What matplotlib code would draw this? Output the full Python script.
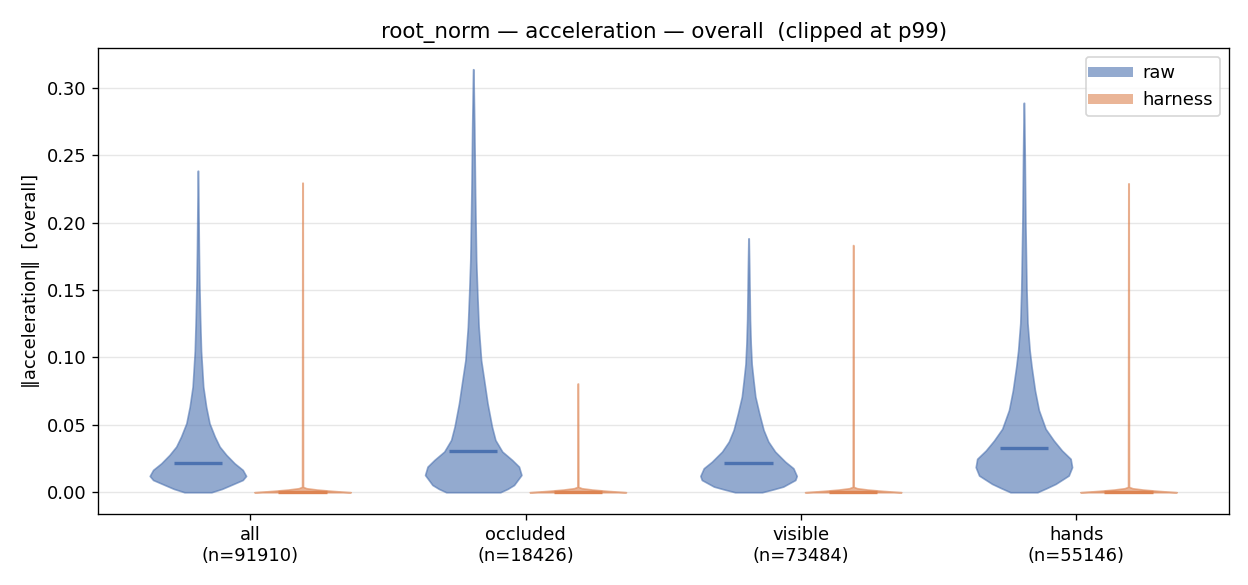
#!/usr/bin/env python3
import matplotlib
matplotlib.use("Agg")
import matplotlib.pyplot as plt
from matplotlib.lines import Line2D
import numpy as np

# categories and sample counts
categories = ["all", "occluded", "visible", "hands"]
counts = [91910, 18426, 73484, 55146]

# medians
raw_median = [0.0220, 0.0304, 0.0215, 0.0332]
harness_median = [0.0002, 0.0002, 0.0002, 0.0002]

# violin profiles (value, relative half-width)
raw_all_y = [0.0, 0.0025, 0.0054, 0.0091, 0.0121, 0.0166, 0.0215, 0.0277, 0.0339,
             0.0413, 0.0512, 0.0636, 0.0784, 0.105, 0.13, 0.155, 0.18, 0.204, 0.2386]
raw_all_w = [0.28, 0.50, 0.69, 0.93, 1.0, 0.93, 0.76, 0.59, 0.45,
             0.35, 0.24, 0.17, 0.11, 0.065, 0.045, 0.030, 0.020, 0.013, 0.004]

raw_occ_y = [0.0, 0.0025, 0.0054, 0.0128, 0.019, 0.024, 0.0302, 0.0388, 0.0487,
             0.066, 0.0834, 0.098, 0.1227, 0.1475, 0.172, 0.222, 0.271, 0.3139]
raw_occ_w = [0.55, 0.70, 0.83, 0.98, 0.93, 0.79, 0.59, 0.45, 0.38,
             0.29, 0.22, 0.16, 0.11, 0.083, 0.060, 0.038, 0.022, 0.004]

raw_vis_y = [0.0, 0.0020, 0.0042, 0.0091, 0.0121, 0.0178, 0.0227, 0.0302, 0.0376,
             0.0463, 0.0587, 0.071, 0.0834, 0.095, 0.11, 0.128, 0.165, 0.1884]
raw_vis_w = [0.28, 0.50, 0.72, 0.97, 1.0, 0.93, 0.76, 0.55, 0.41,
             0.31, 0.22, 0.14, 0.10, 0.065, 0.045, 0.030, 0.015, 0.004]

raw_hands_y = [0.0, 0.003, 0.0062, 0.0124, 0.0186, 0.0248, 0.031, 0.0384, 0.0471,
               0.061, 0.0755, 0.093, 0.105, 0.1255, 0.150, 0.1996, 0.249, 0.289]
raw_hands_w = [0.28, 0.47, 0.66, 0.93, 1.0, 0.97, 0.79, 0.62, 0.45,
               0.31, 0.23, 0.16, 0.12, 0.075, 0.055, 0.032, 0.018, 0.004]

# harness: flat spike at zero, thin stem up to the clipped max
harness_top = [0.2297, 0.0807, 0.1834, 0.2292]
harness_base_y = [0.0, 0.001, 0.002, 0.003, 0.004]
harness_base_w = [1.0, 0.62, 0.30, 0.08, 0.01]
harness_stem_w = 0.004

raw_profiles = [(raw_all_y, raw_all_w), (raw_occ_y, raw_occ_w),
                (raw_vis_y, raw_vis_w), (raw_hands_y, raw_hands_w)]

RAW_C = "#4C72B0"
HAR_C = "#DD8452"

plt.rcParams["font.size"] = 10.7


def stats(ys, ws, med):
    ys = np.asarray(ys, float)
    return {"coords": ys, "vals": np.asarray(ws, float), "mean": med,
            "median": med, "min": ys.min(), "max": ys.max()}


raw_stats = [stats(y, w, m) for (y, w), m in zip(raw_profiles, raw_median)]
har_stats = [stats(harness_base_y + [top], harness_base_w + [harness_stem_w], m)
             for top, m in zip(harness_top, harness_median)]

x = np.arange(len(categories))
fig, ax = plt.subplots(figsize=(10.4, 4.875), dpi=120)
fig.subplots_adjust(left=0.0785, right=0.985, top=0.918, bottom=0.121)

for st, off, col in [(raw_stats, -0.19, RAW_C), (har_stats, 0.19, HAR_C)]:
    parts = ax.violin(st, positions=x + off, widths=0.35,
                      showmeans=False, showextrema=False, showmedians=True)
    for b in parts["bodies"]:
        b.set_facecolor(col)
        b.set_edgecolor(col)
        b.set_alpha(0.6)
        b.set_linewidth(1.0)
    parts["cmedians"].set_color(col)
    parts["cmedians"].set_linewidth(2)

ax.set_xticks(x)
ax.set_xticklabels([f"{c}\n(n={n})" for c, n in zip(categories, counts)])
ax.set_xlim(-0.553, 3.556)
ax.set_ylim(-0.0163, 0.3297)
ax.set_ylabel("\u2016acceleration\u2016  [overall]")
ax.set_title("root_norm \u2014 acceleration \u2014 overall  (clipped at p99)")
ax.yaxis.grid(True, alpha=0.3)
ax.set_axisbelow(True)

handles = [Line2D([0], [0], color=RAW_C, lw=6, alpha=0.6, label="raw"),
           Line2D([0], [0], color=HAR_C, lw=6, alpha=0.6, label="harness")]
ax.legend(handles=handles, loc="upper right")

plt.savefig("out.png", dpi=120)
